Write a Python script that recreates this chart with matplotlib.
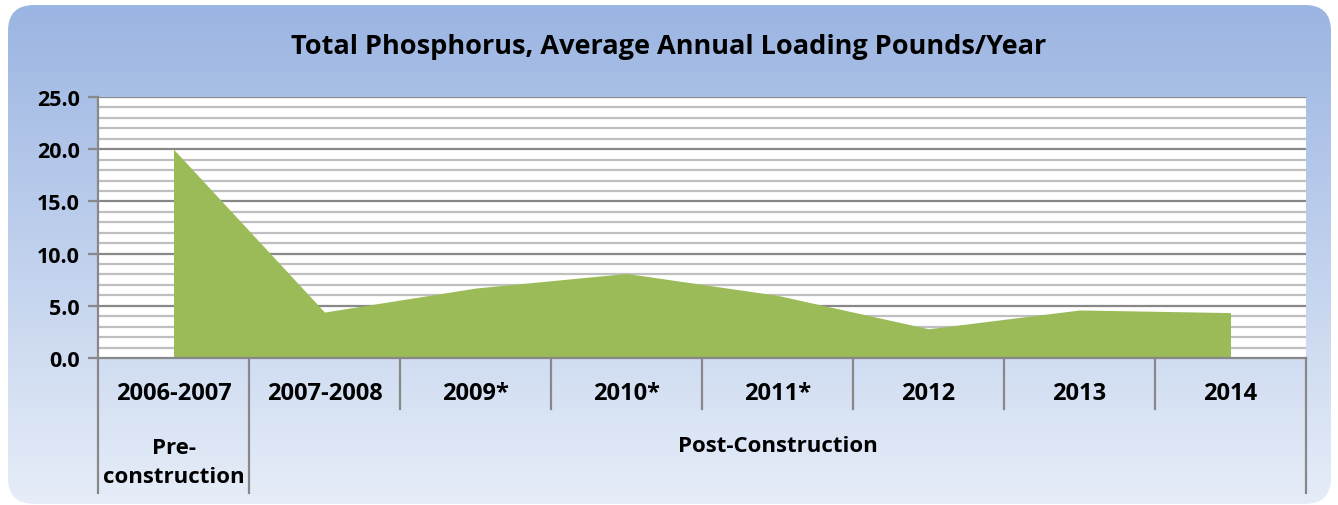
import numpy as np
import matplotlib
matplotlib.use("Agg")
import matplotlib.pyplot as plt
from matplotlib.patches import FancyBboxPatch
from matplotlib.lines import Line2D
import matplotlib.transforms as mtransforms

# ---- data ----
categories = ["2006-2007", "2007-2008", "2009*", "2010*", "2011*", "2012", "2013", "2014"]
loading = [20.0, 4.4, 6.7, 8.1, 6.0, 2.8, 4.6, 4.35]
groups = ["Pre-\nconstruction", "Post-Construction"]
group_spans = [(0, 1), (1, 8)]
title = "Total Phosphorus, Average Annual Loading Pounds/Year"
yticks = [0, 5, 10, 15, 20, 25]

W, H = 1338, 506
fig = plt.figure(figsize=(W / 100, H / 100), dpi=100)
fig.patch.set_facecolor("white")
FONT = ["Open Sans", "DejaVu Sans"]

# ---- background rounded gradient ----
bg = fig.add_axes([0, 0, 1, 1])
bg.set_xlim(0, W)
bg.set_ylim(H, 0)
bg.axis("off")
top = np.array([0x9B, 0xB5, 0xE2]) / 255
bot = np.array([0xE6, 0xED, 0xF8]) / 255
t = np.linspace(0, 1, 256)[:, None]
grad = (top[None, :] * (1 - t) + bot[None, :] * t)[:, None, :]
grad = np.repeat(grad, 2, axis=1)
im = bg.imshow(grad, extent=[8, 1331, 505, 6], aspect="auto", zorder=0)
box = FancyBboxPatch((8, 6), 1323, 499, boxstyle="round,pad=0,rounding_size=26",
                     transform=bg.transData, facecolor="none", edgecolor="none")
bg.add_patch(box)
im.set_clip_path(box)

# ---- main axes ----
L, R, T, B = 98, 1306, 98, 359
ax = fig.add_axes([L / W, 1 - B / H, (R - L) / W, (B - T) / H])
ax.set_facecolor("white")
ax.set_xlim(0, len(categories))
ax.set_ylim(0, 25)

x = np.arange(len(categories)) + 0.5
ax.fill_between(x, loading, 0, color="#9BBB59", linewidth=0, zorder=3)

# grid
for v in np.arange(1, 25, 1):
    if v % 5:
        ax.axhline(v, color="#BFBFBF", lw=1.6, zorder=1)
for v in [5, 10, 15, 20, 25]:
    ax.axhline(v, color="#888888", lw=1.6, zorder=2)

for s in ["top", "right"]:
    ax.spines[s].set_visible(False)
for s in ["left", "bottom"]:
    ax.spines[s].set_color("#888888")
    ax.spines[s].set_linewidth(1.6)
    ax.spines[s].set_zorder(4)

ax.set_yticks(yticks)
ax.set_yticklabels([f"{v:.1f}" for v in yticks], fontsize=15.5, fontweight="bold",
                   family=FONT, color="black")
ax.tick_params(axis="y", length=7, width=1.6, color="#888888", pad=6)
ax.set_xticks([])

# category labels & separators
trans = mtransforms.blended_transform_factory(ax.transData, ax.transAxes)
ph = B - T
def ay(py):
    return (B - py) / ph

for i, c in enumerate(categories):
    ax.text(i + 0.5, ay(394), c, transform=trans, ha="center", va="center",
            fontsize=17, fontweight="bold", family=FONT, color="black")
group_edges = {0, 1, len(categories)}
for i in range(len(categories) + 1):
    yend = ay(494) if i in group_edges else ay(410)
    ax.add_line(Line2D([i, i], [0, yend], transform=trans, color="#888888",
                       lw=1.6, clip_on=False, zorder=4))

# group labels
for g, (a, b) in zip(groups, group_spans):
    ax.text((a + b) / 2, ay(463) if "\n" in g else ay(446), g, transform=trans,
            ha="center", va="center", fontsize=16, fontweight="bold",
            family=FONT, color="black", linespacing=1.45)

fig.text(0.5, 1 - 47 / H, title, ha="center", va="center", fontsize=19.5,
         fontweight="bold", family=FONT, color="black")

fig.savefig("out.png", dpi=100)
